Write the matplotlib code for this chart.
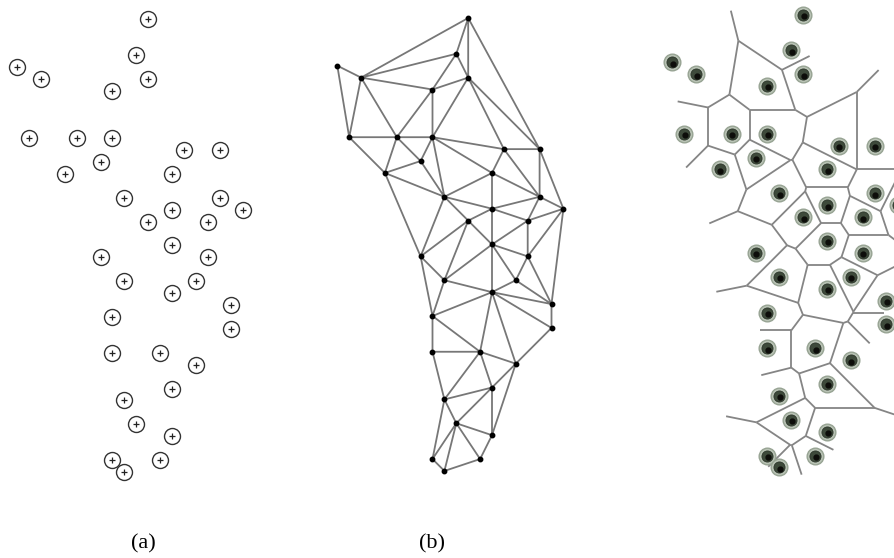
import numpy as np
import matplotlib.pyplot as plt
import matplotlib.tri as mtri
from matplotlib.collections import LineCollection

# sample points on the ~12 px grid of the original figure (column, row)
col = [11, 10, 0, 2, 11, 8, 1, 5, 8, 14, 17, 7, 4, 13, 9, 17, 13, 19, 11, 16,
       13, 7, 16, 9, 15, 13, 18, 8, 18, 8, 12, 15, 13, 9, 10, 13, 8, 12, 9]
row = [0, 3, 4, 5, 5, 6, 10, 10, 10, 11, 11, 12, 13, 13, 15, 15, 16, 16, 17, 17,
       19, 20, 20, 22, 22, 23, 24, 25, 26, 28, 28, 29, 31, 32, 34, 35, 37, 37, 38]
vor_skip = [0, 2]  # outliers that get no voronoi cell in (c)
labels = ['(a)', '(b)']

W, H = 895, 558
SX, SY = 11.9, 11.92
origins = [(17.3, 19.0), (337.3, 18.0), (672.3, 14.5)]
label_x = [143, 432]
XL, YL = (-2, 21), (-2, 40)
MIN_ANGLE = 13.0  # thin triangles on the border are peeled off
R_MAX = 5.0       # voronoi vertices further than this from their sites are dropped
L_RAY = 2.6       # length of open voronoi edges

x = np.array(col, float)
y = np.array(row, float)


def circumcenters(P, T):
    A, B, C = P[T[:, 0]], P[T[:, 1]], P[T[:, 2]]
    a2, b2, c2 = (A**2).sum(1), (B**2).sum(1), (C**2).sum(1)
    d = 2 * (A[:, 0]*(B[:, 1]-C[:, 1]) + B[:, 0]*(C[:, 1]-A[:, 1])
             + C[:, 0]*(A[:, 1]-B[:, 1]))
    ux = (a2*(B[:, 1]-C[:, 1]) + b2*(C[:, 1]-A[:, 1]) + c2*(A[:, 1]-B[:, 1])) / d
    uy = (a2*(C[:, 0]-B[:, 0]) + b2*(A[:, 0]-C[:, 0]) + c2*(B[:, 0]-A[:, 0])) / d
    cc = np.column_stack([ux, uy])
    return cc, np.hypot(*(cc - A).T)


def min_angles(P, T):
    out = np.full(len(T), 180.0)
    for k in range(3):
        a, b, c = P[T[:, k]], P[T[:, (k+1) % 3]], P[T[:, (k+2) % 3]]
        u, v = b - a, c - a
        cos = (u * v).sum(1) / np.hypot(*u.T) / np.hypot(*v.T)
        out = np.minimum(out, np.degrees(np.arccos(np.clip(cos, -1, 1))))
    return out


def peeled_delaunay(px, py):
    t = mtri.Triangulation(px, py)
    P = np.column_stack([px, py])
    ang = min_angles(P, t.triangles)
    mask = np.zeros(len(t.triangles), bool)
    while True:
        t.set_mask(mask)
        border = (t.neighbors == -1).any(1) & ~mask
        drop = border & (ang < MIN_ANGLE)
        if not drop.any():
            break
        mask |= drop
    return t


tri = peeled_delaunay(x, y)

# voronoi edges, built from the delaunay triangles of the kept sites
keep = np.array([i not in vor_skip for i in range(len(x))])
vt = peeled_delaunay(x[keep], y[keep])
P = np.column_stack([x[keep], y[keep]])
T = vt.triangles
cc, rad = circumcenters(P, T)
ok = (rad <= R_MAX) & ~vt.mask
nb = vt.neighbors


def ray(p, v):
    n = np.linalg.norm(v)
    if n == 0:
        return None
    return [p, p + L_RAY * v / n]


segs = []
for t in range(len(T)):
    if vt.mask[t]:
        continue
    for k in range(3):
        n = nb[t, k]
        p, q = P[T[t, k]], P[T[t, (k + 1) % 3]]
        s = None
        if n > t:
            if ok[t] and ok[n]:
                s = [cc[t], cc[n]]
            elif ok[t]:
                s = ray(cc[t], cc[n] - cc[t])
            elif ok[n]:
                s = ray(cc[n], cc[t] - cc[n])
        elif n == -1 and ok[t]:
            e = q - p
            nrm = np.array([e[1], -e[0]])
            r = P[T[t, (k + 2) % 3]]
            if np.dot(nrm, r - p) > 0:
                nrm = -nrm
            s = ray(cc[t], nrm)
        if s is not None:
            segs.append(s)

fig = plt.figure(figsize=(W / 100, H / 100), dpi=100)
axes = []
for ox, oy in origins:
    left = ox + XL[0] * SX
    top = oy + YL[0] * SY
    w = (XL[1] - XL[0]) * SX
    h = (YL[1] - YL[0]) * SY
    ax = fig.add_axes([left / W, 1 - (top + h) / H, w / W, h / H])
    ax.set_xlim(*XL)
    ax.set_ylim(YL[1], YL[0])
    ax.axis('off')
    axes.append(ax)

# (a) sample points
ax = axes[0]
ax.plot(x, y, 'o', ms=11.5, mfc='none', mec='#333333', mew=1.0)
ax.plot(x, y, '+', ms=4.5, color='#222222', mew=0.9)

# (b) delaunay triangulation
ax = axes[1]
ax.triplot(tri, color='#777777', lw=1.3)
ax.plot(x, y, 'o', ms=3.2, color='black')

# (c) voronoi diagram
ax = axes[2]
ax.add_collection(LineCollection(segs, colors='#858585', linewidths=1.3))
ax.plot(x, y, 'o', ms=12, mfc='#b9c3b5', mec='#97a393', mew=1.0)
ax.plot(x, y, 'o', ms=8, mfc='#3e4a3b', mec='#2d362b', mew=0.6)
ax.plot(x + 0.05, y + 0.12, 'o', ms=3.5, color='#0d0d0a')

for lx, lab in zip(label_x, labels):
    fig.text(lx / W, 1 - 544 / H, lab, ha='center', va='center',
             fontsize=16, family='Liberation Serif')

fig.savefig('out.png', dpi=100, facecolor='white')
